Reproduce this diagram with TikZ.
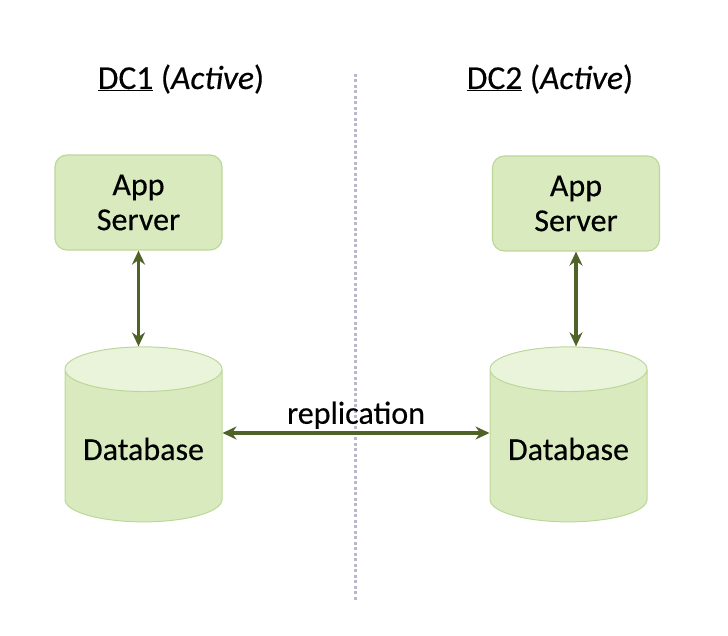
\documentclass[tikz,border=0pt]{standalone}
\usepackage{fontspec}
\setmainfont{Carlito}[UprightFeatures={FakeBold=0.35}, ItalicFeatures={FakeBold=0.35}]
\usetikzlibrary{shapes.geometric,arrows.meta}

\definecolor{boxfill}{HTML}{D9EBBE}
\definecolor{boxline}{HTML}{BCD79A}
\definecolor{topfill}{HTML}{EAF4DA}
\definecolor{linkgreen}{HTML}{4F6228}
\definecolor{dotgray}{HTML}{B9B9CB}

\tikzset{
  bigtext/.style={font=\fontsize{32}{35}\selectfont},
  titletext/.style={font=\fontsize{33.5}{36}\selectfont},
  appbox/.style={bigtext, draw=boxline, line width=1.2pt, fill=boxfill,
    rounded corners=12pt, minimum width=167pt, minimum height=95pt, align=center},
  dbcyl/.style={bigtext, cylinder, shape border rotate=90, draw=boxline, line width=1pt,
    cylinder uses custom fill, cylinder body fill=boxfill, cylinder end fill=topfill,
    minimum width=157pt, minimum height=175pt, aspect=0.35},
  link/.style={{Stealth[length=14pt,width=13pt]}-{Stealth[length=14pt,width=13pt]},
    draw=linkgreen, line width=3.5pt}
}

\begin{document}
\begin{tikzpicture}[x=1pt,y=-1pt]
  \useasboundingbox (0,0) rectangle (728,636);

  % divider between the two sites
  \draw [dotgray, line width=3pt, dash pattern=on 3pt off 2.5pt] (355,74) -- (355,601);

  % site titles
  \node [titletext, anchor=base] (dc1) at (181,89) {\underline{DC1} (\textit{Active})};
  \node [titletext, anchor=base] (dc2) at (550,89) {\underline{DC2} (\textit{Active})};

  % app servers
  \node [appbox] (app1) at (138.5,202.5) {App\\Server};
  \node [appbox] (app2) at (576,203.5) {App\\Server};

  % databases
  \node [dbcyl] (db1) at (143.5,449) {Database};
  \node [dbcyl] (db2) at (568.5,449) {Database};

  \draw [link] (app1.south) -- (app1.south |- db1.north);
  \draw [link] (app2.south) -- (app2.south |- db2.north);
  \draw [link] ([yshift=16pt]db1.east) -- ([yshift=16pt]db2.west)
    node [bigtext, midway, above=-1pt] (rep) {replication};
\end{tikzpicture}
\end{document}
